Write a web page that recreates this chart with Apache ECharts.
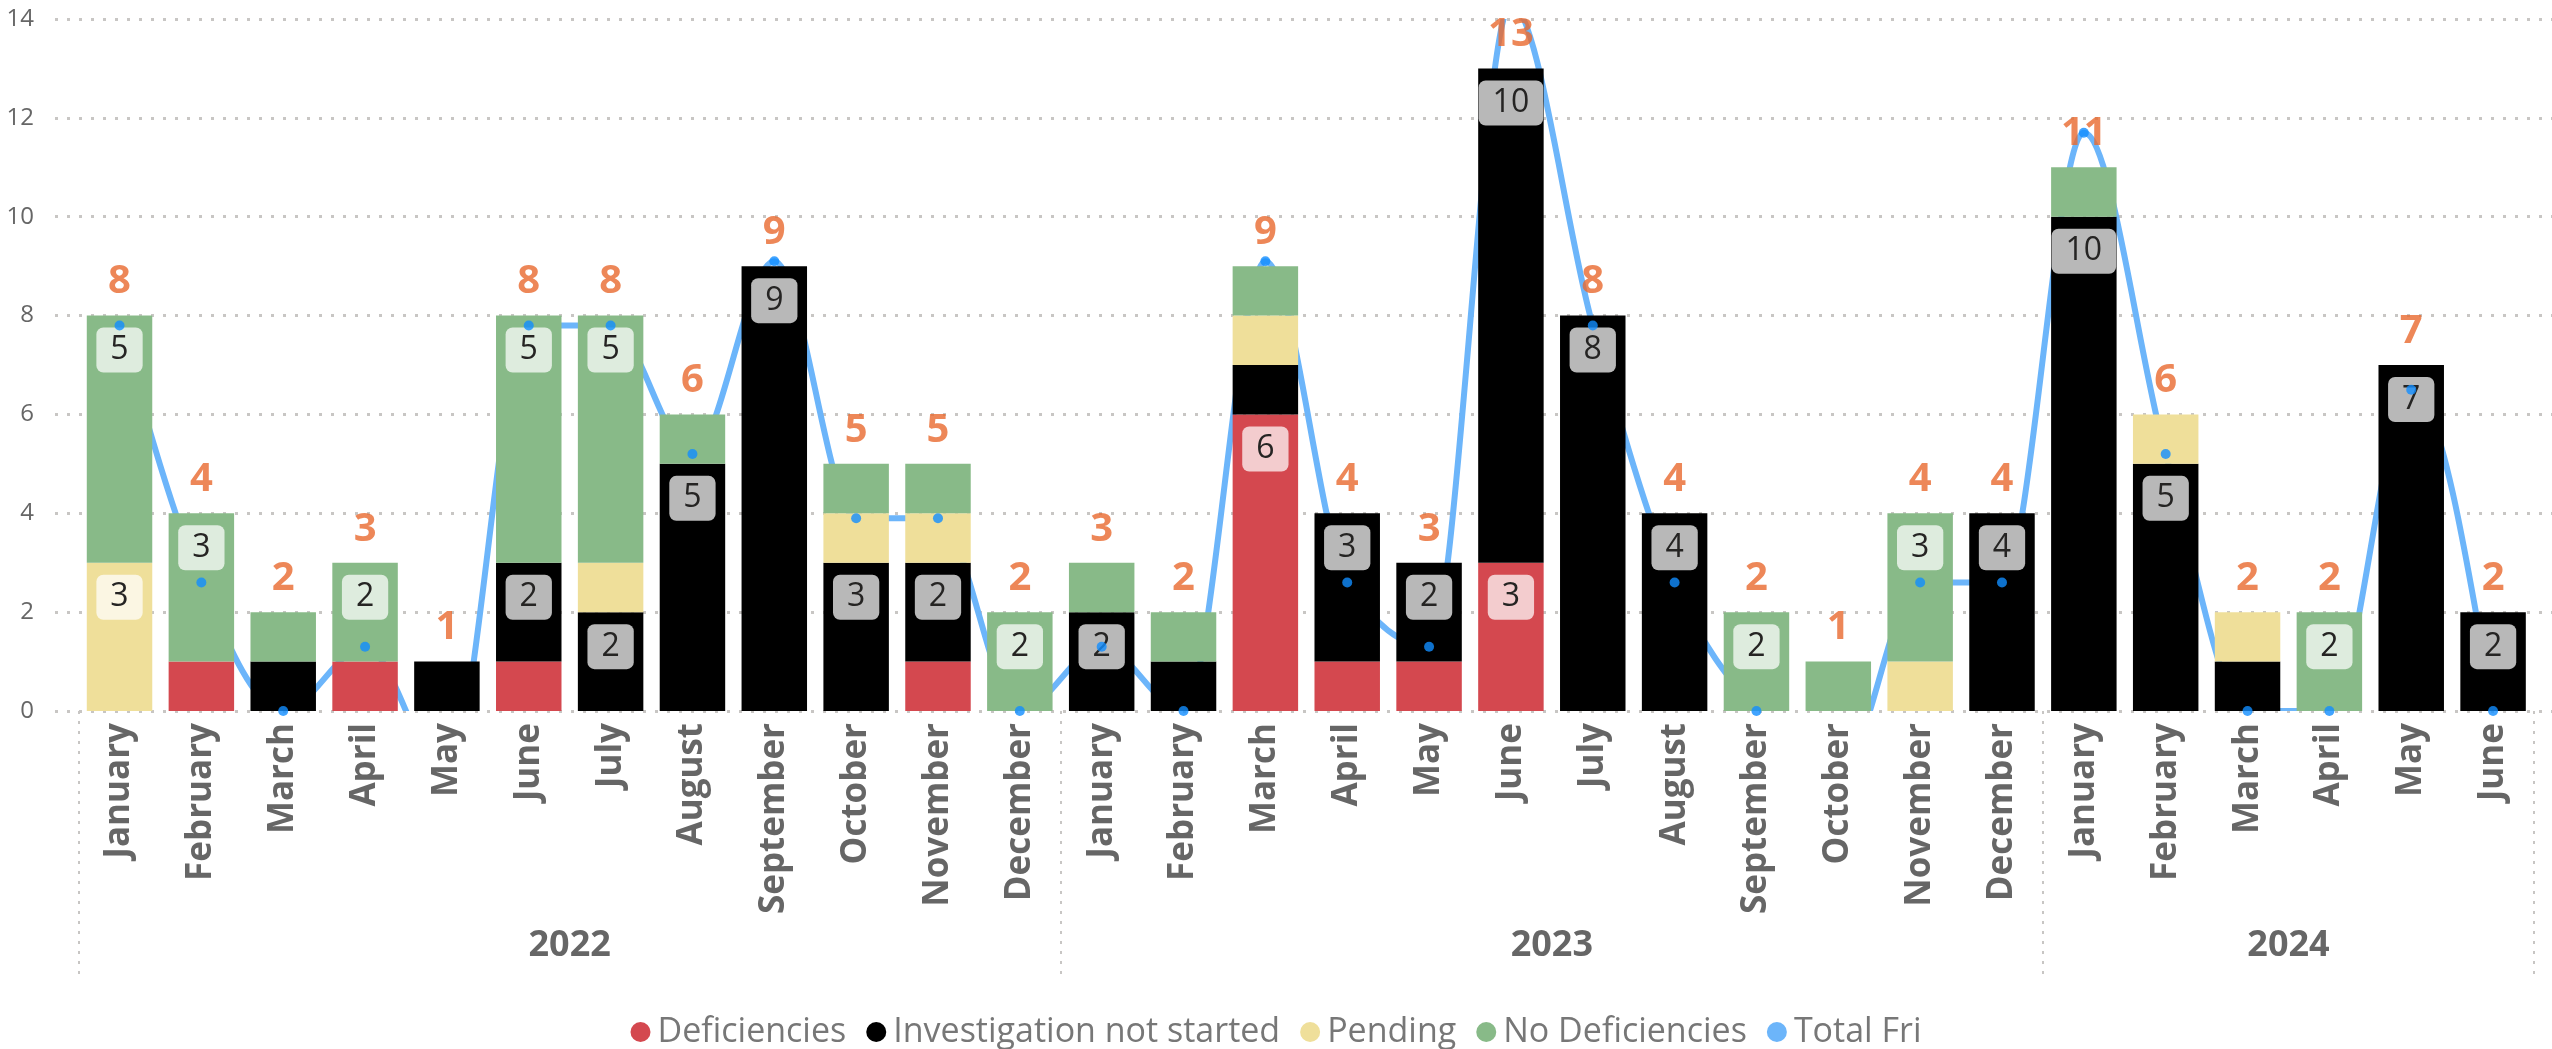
<!DOCTYPE html>
<html>
<head>
<meta charset="utf-8">
<script src="https://cdn.jsdelivr.net/npm/echarts@6/dist/echarts.min.js"></script>
<style>
  html, body { margin: 0; padding: 0; background: #fff; }
  #chart { width: 2552px; height: 1049px; }
</style>
</head>
<body>
<div id="chart"></div>
<script>
// month axis labels, Jan 2022 .. Jun 2024
const months = [
  'January', 'February', 'March', 'April', 'May', 'June', 'July', 'August', 'September', 'October', 'November', 'December',
  'January', 'February', 'March', 'April', 'May', 'June', 'July', 'August', 'September', 'October', 'November', 'December',
  'January', 'February', 'March', 'April', 'May', 'June'
]
const years = ['2022', '2023', '2024']
const yearLengths = [12, 12, 6]

// stacked segments
const deficiencies   = [0, 1, 0, 1, 0, 1, 0, 0, 0, 0, 1, 0, 0, 0, 6, 1, 1, 3, 0, 0, 0, 0, 0, 0, 0, 0, 0, 0, 0, 0]
const notStarted     = [0, 0, 1, 0, 1, 2, 2, 5, 9, 3, 2, 0, 2, 1, 1, 3, 2, 10, 8, 4, 0, 0, 0, 4, 10, 5, 1, 0, 7, 2]
const pending        = [3, 0, 0, 0, 0, 0, 1, 0, 0, 1, 1, 0, 0, 0, 1, 0, 0, 0, 0, 0, 0, 0, 1, 0, 0, 1, 1, 0, 0, 0]
const noDeficiencies = [5, 3, 1, 2, 0, 5, 5, 1, 0, 1, 1, 2, 1, 1, 1, 0, 0, 0, 0, 0, 2, 1, 3, 0, 1, 0, 0, 2, 0, 0]
// orange totals above the bars
const totals         = [8, 4, 2, 3, 1, 8, 8, 6, 9, 5, 5, 2, 3, 2, 9, 4, 3, 13, 8, 4, 2, 1, 4, 4, 11, 6, 2, 2, 7, 2]
// Total Fri line (as drawn against the left axis)
const totalFri = [7.8, 2.6, 0, 1.3, -1.3, 7.8, 7.8, 5.2, 9.1, 3.9, 3.9, 0, 1.3, 0, 9.1, 2.6, 1.3, 14.3, 7.8, 2.6, 0, -1.3, 2.6, 2.6, 11.7, 5.2, 0, 0, 6.5, 0]

const yMax = 14
const yStep = 2

const FONT = '"Segoe UI", "Open Sans", sans-serif'
const GRID_TOP = 19
const GRID_BOTTOM = 338
const dotted = { color: '#C8C6C4', type: [3, 9], width: 3 }

// year axis: one slot per month boundary, year name at the middle of its run
const yearTicks = []
const yearEdges = [0]
let acc = 0
yearLengths.forEach(n => { acc += n; yearEdges.push(acc) })
for (let i = 0; i <= acc; i++) yearTicks.push('')
years.forEach((y, k) => { yearTicks[(yearEdges[k] + yearEdges[k + 1]) / 2] = y })

const labelBox = {
  show: true,
  position: 'insideTop',
  distance: 12,
  fontFamily: FONT,
  fontSize: 32,
  lineHeight: 35,
  color: '#252423',
  backgroundColor: 'rgba(255,255,255,0.72)',
  borderRadius: 7,
  padding: [5, 14]
}

const stackSeries = (name, color, values) => ({
  name,
  type: 'bar',
  stack: 'total',
  barCategoryGap: '20%',
  itemStyle: { color },
  label: labelBox,
  data: values.map(v => ({ value: v, label: { show: v >= 2 } }))
})

// monotone cubic (like Power BI's smoothed line)
const slope3 = (p0, p1, p2) => {
  const h0 = p1[0] - p0[0], h1 = p2[0] - p1[0]
  const s0 = (p1[1] - p0[1]) / h0, s1 = (p2[1] - p1[1]) / h1
  const p = (s0 * h1 + s1 * h0) / (h0 + h1)
  return (Math.sign(s0) + Math.sign(s1)) * Math.min(Math.abs(s0), Math.abs(s1), 0.5 * Math.abs(p)) || 0
}
const slope2 = (p0, p1, t) => {
  const h = p1[0] - p0[0]
  return h ? (3 * (p1[1] - p0[1]) / h - t) / 2 : t
}

const renderFriLine = (params, api) => {
  if (params.dataIndex !== 0) return
  const pts = totalFri.map((v, i) => api.coord([i, v]))
  const n = pts.length
  const t = []
  for (let i = 1; i < n - 1; i++) t[i] = slope3(pts[i - 1], pts[i], pts[i + 1])
  t[0] = slope2(pts[0], pts[1], t[1])
  t[n - 1] = slope2(pts[n - 2], pts[n - 1], t[n - 2])
  let d = `M${pts[0][0]},${pts[0][1]}`
  for (let i = 0; i < n - 1; i++) {
    const dx = (pts[i + 1][0] - pts[i][0]) / 3
    d += ` C${pts[i][0] + dx},${pts[i][1] + dx * t[i]} ${pts[i + 1][0] - dx},${pts[i + 1][1] - dx * t[i + 1]} ${pts[i + 1][0]},${pts[i + 1][1]}`
  }
  return {
    type: 'path',
    shape: { pathData: d },
    style: { fill: 'none', stroke: '#6CB5FA', lineWidth: 6, lineJoin: 'round' }
  }
}

const chart = echarts.init(document.getElementById('chart'))

chart.setOption({
  animation: false,
  backgroundColor: '#fff',
  textStyle: { fontFamily: FONT },
  legend: {
    top: 1010,
    left: 'center',
    icon: 'circle',
    itemWidth: 20,
    itemHeight: 20,
    itemGap: 20,
    textStyle: { fontFamily: FONT, fontSize: 34, color: '#777', padding: [0, 0, 0, 2] },
    data: [
      { name: 'Deficiencies', itemStyle: { color: '#D4484F' } },
      { name: 'Investigation not started', itemStyle: { color: '#000' } },
      { name: 'Pending', itemStyle: { color: '#EFDF9A' } },
      { name: 'No Deficiencies', itemStyle: { color: '#88BA88' } },
      { name: 'Total Fri', itemStyle: { color: '#6CB5FA' } }
    ]
  },
  grid: [
    { left: 78.6, right: 18, top: GRID_TOP, bottom: GRID_BOTTOM },
    { left: 55, right: 0, top: GRID_TOP, bottom: GRID_BOTTOM }
  ],
  xAxis: [
    {
      type: 'category',
      gridIndex: 0,
      data: months,
      axisLine: { show: false },
      axisTick: { show: false },
      axisLabel: {
        interval: 0,
        rotate: 90,
        margin: 12,
        fontFamily: FONT,
        fontSize: 35,
        fontWeight: 'bold',
        color: '#666'
      }
    },
    {
      type: 'category',
      gridIndex: 0,
      position: 'bottom',
      boundaryGap: false,
      data: yearTicks,
      axisLine: { show: false },
      axisTick: {
        show: true,
        length: 266,
        interval: idx => yearEdges.includes(idx),
        lineStyle: { color: '#C8C6C4', type: [3, 7], width: 2 }
      },
      axisLabel: {
        interval: 0,
        margin: 215,
        fontFamily: FONT,
        fontSize: 36,
        lineHeight: 40,
        fontWeight: 'bold',
        color: '#666'
      }
    },
    { type: 'value', gridIndex: 1, min: 0, max: 1, show: false }
  ],
  yAxis: [
    { type: 'value', gridIndex: 0, min: 0, max: yMax, show: false },
    {
      type: 'value',
      gridIndex: 1,
      min: 0,
      max: yMax,
      interval: yStep,
      axisLine: { show: false },
      axisTick: { show: false },
      axisLabel: { margin: 21, fontFamily: FONT, fontSize: 24, color: '#666' },
      splitLine: { show: true, lineStyle: dotted }
    }
  ],
  series: [
    stackSeries('Deficiencies', '#D4484F', deficiencies),
    stackSeries('Investigation not started', '#000000', notStarted),
    stackSeries('Pending', '#EFDF9A', pending),
    stackSeries('No Deficiencies', '#88BA88', noDeficiencies),
    {
      name: 'Total Fri',
      type: 'custom',
      clip: true,
      z: 2,
      silent: true,
      itemStyle: { color: '#6CB5FA' },
      renderItem: renderFriLine,
      data: totalFri.map((v, i) => [i, v])
    },
    {
      name: 'Total Fri',
      type: 'scatter',
      symbolSize: 10,
      z: 4,
      silent: true,
      itemStyle: { color: '#118DFF' },
      data: totalFri.map((v, i) => [i, v])
    },
    {
      name: 'totals',
      type: 'scatter',
      symbolSize: 1,
      z: 5,
      silent: true,
      itemStyle: { color: 'rgba(0,0,0,0)' },
      label: {
        show: true,
        position: 'top',
        distance: 13,
        fontFamily: FONT,
        fontSize: 40,
        fontWeight: 'bold',
        color: '#E8692E'
      },
      data: totals
    }
  ]
})
</script>
</body>
</html>
